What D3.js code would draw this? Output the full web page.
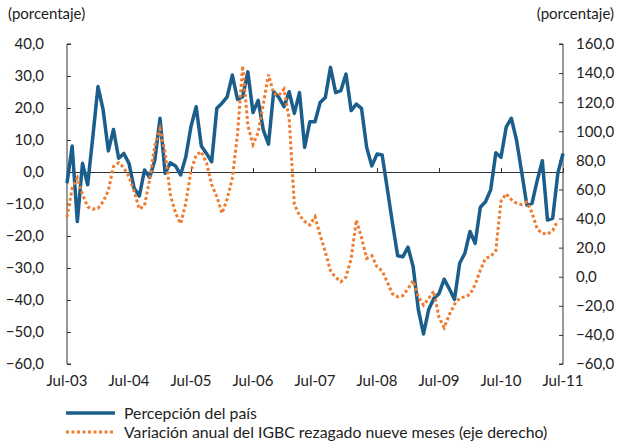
<!DOCTYPE html>
<html><head><meta charset="utf-8">
<script src="https://cdn.jsdelivr.net/npm/d3@7"></script>
<style>
html,body{margin:0;padding:0;background:#fff;}
svg text{font-family:"Lato","Open Sans",sans-serif;fill:#222;}
</style></head>
<body><svg id="c" width="618" height="442"></svg>
<script>
const tickLabels = ["Jul-03","Jul-04","Jul-05","Jul-06","Jul-07","Jul-08","Jul-09","Jul-10","Jul-11"];
const leftTicks = [40,30,20,10,0,-10,-20,-30,-40,-50,-60];
const rightTicks = [160,140,120,100,80,60,40,20,0,-20,-40,-60];
// Percepción del país (left axis), monthly Jul-03 .. Jul-11
const percepcion = [-3.5,8.1,-15.5,2.7,-4,11,26.7,19.4,6.6,13.3,4.3,5.8,
  2.7,-5.1,-7.5,0.6,-1.7,3.7,16.8,-0.4,2.9,1.9,-0.9,4.8,
  14.2,20.4,8.1,5.8,3.2,19.9,21.5,23.5,30.3,22.7,23.5,31.3,
  18.6,22.4,13.1,8.7,25.1,23.3,20.4,25.1,18.3,24.8,7.7,15.7,
  15.7,21.7,23.3,32.7,24.8,25.4,30.6,19.2,21.2,19.9,7.7,1.9,
  5.6,5.3,-5.3,-16,-26.2,-26.5,-23.5,-29.6,-43,-50.6,-43,-39.5,
  -38,-33.5,-36.5,-39.8,-28.5,-25.4,-18.6,-22.3,-11,-9.3,-5.6,6.0,
  4.6,14,16.8,10,0,-10.3,-9.8,-2.7,3.5,-15,-14.5,-0.4,5.8];
// Variación anual del IGBC rezagado nueve meses (right axis)
const igbc = [41,61,68,56.5,48,46.5,47,51.7,59.4,75.8,78.4,75,
  68.7,58.7,46.5,48.9,66.8,90.2,101.5,85.2,56.5,43.8,36.5,50.8,
  72.8,83.7,86,78.3,63.4,55,43.6,53.4,67.7,98,145,104,
  91,99.2,118.7,139,125.8,124.7,129,108.6,49.8,42.1,38,35.5,
  41.3,28.4,17,4.1,-0.5,-3.4,-0.2,12.4,39,27,12.6,14.5,
  6.8,4.1,-3.7,-11.8,-13.8,-13,-8.2,-2.7,-13.8,-19.5,-14.9,-10,
  -28,-35,-26.1,-19,-14.7,-13.8,-12.2,-5.4,4.6,12.7,13.9,18,
  52,57,53,50.6,49.6,51.3,44,32.9,29.7,29.4,31.7,38.5,null];

const svg = d3.select("#c");
const X0 = 67, X1 = 563, YT = 44, YB = 364;
const x = d3.scaleLinear().domain([0,96]).range([X0,X1]);
const yL = d3.scaleLinear().domain([-60,40]).range([YB,YT]);
const yR = d3.scaleLinear().domain([-60,160]).range([YB,YT]);
const fmt = v => d3.format(".1f")(v).replace(".",",");
const fs = 15, fsLeg = 15.8;

// Left axis
const gl = svg.append("g").attr("transform",`translate(${X0},0)`);
gl.call(d3.axisRight(yL).tickValues(leftTicks).tickSize(4).tickFormat(""));
gl.selectAll(".domain").attr("d",`M4,${YT}H0V${YB}H4`);
gl.selectAll("line,path").attr("stroke","#333");
leftTicks.forEach(t=>svg.append("text").attr("x",44).attr("y",yL(t)).attr("dy","0.36em")
  .attr("text-anchor","end").style("font-size",fs+"px").text(fmt(t)));

// Right axis
const gr = svg.append("g").attr("transform",`translate(${X1},0)`);
gr.call(d3.axisLeft(yR).tickValues(rightTicks).tickSize(4).tickFormat(""));
gr.selectAll(".domain").attr("d",`M-4,${YT}H0V${YB}H-4`);
gr.selectAll("line,path").attr("stroke","#333");
rightTicks.forEach(t=>svg.append("text").attr("x",576).attr("y",yR(t)).attr("dy","0.36em")
  .attr("text-anchor","start").style("font-size",fs+"px").text(fmt(t)));

// X axis at left-zero
const gx = svg.append("g").attr("transform",`translate(0,${yL(0)})`);
gx.call(d3.axisTop(x).tickValues(d3.range(0,97,12)).tickSize(4).tickFormat(""));
gx.selectAll("line,path").attr("stroke","#333");
tickLabels.forEach((l,i)=>svg.append("text").attr("x",x(i*12)).attr("y",381).attr("dy","0.36em")
  .attr("text-anchor","middle").style("font-size",fs+"px").text(l));

// Units
svg.append("text").attr("x",8).attr("y",14).attr("dy","0.36em").style("font-size",fs+"px").text("(porcentaje)");
svg.append("text").attr("x",614).attr("y",14).attr("dy","0.36em").attr("text-anchor","end").style("font-size",fs+"px").text("(porcentaje)");

const blue = "#1b5e8c", orange = "#ee7d31";
const lineL = d3.line().x((d,i)=>x(i)).y(d=>yL(d)).defined(d=>d!=null);
const lineR = d3.line().x((d,i)=>x(i)).y(d=>yR(d)).defined(d=>d!=null);
svg.append("path").datum(percepcion).attr("d",lineL).attr("fill","none")
  .attr("stroke",blue).attr("stroke-width",3.5).attr("stroke-linejoin","round");
svg.append("path").datum(igbc).attr("d",lineR).attr("fill","none")
  .attr("stroke",orange).attr("stroke-width",3).attr("stroke-dasharray","3,2.5");

// Legend
const lg = svg.append("g");
lg.append("line").attr("x1",66).attr("x2",115).attr("y1",413).attr("y2",413)
  .attr("stroke",blue).attr("stroke-width",3.5);
lg.append("text").attr("x",124).attr("y",413).attr("dy","0.36em").style("font-size",fsLeg+"px").text("Percepción del país");
lg.append("line").attr("x1",66).attr("x2",115).attr("y1",432).attr("y2",432)
  .attr("stroke",orange).attr("stroke-width",3).attr("stroke-dasharray","3,2.5");
lg.append("text").attr("x",124).attr("y",432).attr("dy","0.36em").style("font-size",fsLeg+"px")
  .text("Variación anual del IGBC rezagado nueve meses (eje derecho)");
</script></body></html>
